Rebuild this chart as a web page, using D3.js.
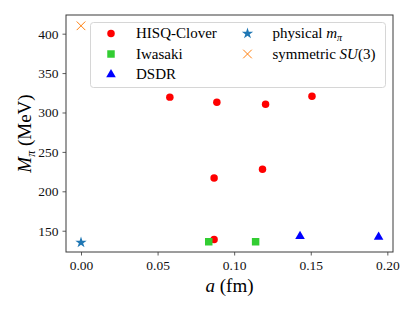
<!DOCTYPE html>
<html>
<head>
<meta charset="utf-8">
<script src="https://cdn.jsdelivr.net/npm/d3@7"></script>
<style>
body{margin:0;background:#fff;}
</style>
</head>
<body>
<div class="canvas"></div>
<script>
var W = 415, H = 311;
var margin = {t:15,r:22,b:59,l:66};
var width = W - margin.l - margin.r,
    height = H - margin.t - margin.b;
var serif = '"Liberation Serif","DejaVu Serif",serif';

// data
var hisqA = [0.058,0.0887,0.1205,0.1508,0.0869,0.1185,0.0869];
var hisqM = [319.5,313,310.5,320.5,217,228,139];
var iwasakiA = [0.0834,0.114];
var iwasakiM = [136,136];
var dsdrA = [0.143,0.1943];
var dsdrM = [143,142];
var physA = [0.0];
var physM = [135];
var symA = [0.0];
var symM = [410];

var xTicks = [0,0.05,0.10,0.15,0.20];
var yTicks = [150,200,250,300,350,400];

var svg = d3.select('.canvas').append('svg')
    .attr('width',W).attr('height',H);
var plot = svg.append('g')
    .attr('transform','translate('+margin.l+','+margin.t+')');

var x = d3.scaleLinear().domain([-0.0098,0.2037]).range([0,width]);
var y = d3.scaleLinear().domain([123,423.7]).range([height,0]);

var xAxis = plot.append('g')
    .attr('transform','translate(0,'+height+')')
    .call(d3.axisBottom(x).tickValues(xTicks).tickFormat(d3.format('.2f')).tickSize(3.5).tickPadding(5));
var yAxis = plot.append('g')
    .call(d3.axisLeft(y).tickValues(yTicks).tickSize(3.5).tickPadding(4));
[xAxis,yAxis].forEach(function(a){
    a.attr('font-family',serif).attr('font-size',13.5);
    a.select('.domain').remove();
    a.selectAll('.tick line').attr('stroke','#333').attr('stroke-width',0.8);
    a.selectAll('.tick text').attr('fill','#111');
});

// frame
plot.append('rect')
    .attr('width',width).attr('height',height)
    .attr('fill','none').attr('stroke','#3a3a3a').attr('stroke-width',1);

function pts(A,M){ return A.map(function(d,i){ return [d,M[i]]; }); }

function drawSeries(data,type,size,fill,stroke){
    plot.selectAll(null).data(data).enter().append('path')
        .attr('transform',function(d){ return 'translate('+x(d[0])+','+y(d[1])+')'; })
        .attr('d',d3.symbol().type(type).size(size))
        .attr('fill',fill)
        .attr('stroke',stroke || 'none')
        .attr('stroke-width',stroke ? 1 : 0);
}

drawSeries(pts(hisqA,hisqM),d3.symbolCircle,44,'#ff0000');
drawSeries(pts(iwasakiA,iwasakiM),d3.symbolSquare,56,'#32cd32');
drawSeries(pts(dsdrA,dsdrM),d3.symbolTriangle,40,'#0000ff');
drawSeries(pts(physA,physM),d3.symbolStar,40,'#1f77b4');
drawSeries(pts(symA,symM),d3.symbolX,50,'none','#ff7f0e');

// legend
var legend = svg.append('g').attr('font-family',serif);
legend.append('rect')
    .attr('x',90.5).attr('y',22.5).attr('width',295).attr('height',65)
    .attr('rx',3).attr('fill','#fff').attr('fill-opacity',0.8)
    .attr('stroke','#d6d6d6').attr('stroke-width',1);

var legendItems = [
    {type:d3.symbolCircle,size:44,fill:'#ff0000',label:'HISQ-Clover',mx:111,my:33.5},
    {type:d3.symbolSquare,size:56,fill:'#32cd32',label:'Iwasaki',mx:111,my:54},
    {type:d3.symbolTriangle,size:40,fill:'#0000ff',label:'DSDR',mx:111,my:74.5},
    {type:d3.symbolStar,size:40,fill:'#1f77b4',label:'physical',sub:'m',mx:247.5,my:33.5},
    {type:d3.symbolX,size:50,fill:'none',stroke:'#ff7f0e',label:'symmetric',su3:true,mx:247.5,my:54}
];
legendItems.forEach(function(it){
    legend.append('path')
        .attr('transform','translate('+it.mx+','+it.my+')')
        .attr('d',d3.symbol().type(it.type).size(it.size))
        .attr('fill',it.fill)
        .attr('stroke',it.stroke || 'none');
    var t = legend.append('text')
        .attr('x',it.mx+25).attr('y',it.my+4.5)
        .attr('font-size',15);
    t.append('tspan').text(it.label);
    if(it.sub){
        t.append('tspan').text(' m').attr('font-style','italic');
        t.append('tspan').text('π').attr('font-style','italic').attr('font-size',10).attr('dy',3);
    }
    if(it.su3){
        t.append('tspan').text(' SU').attr('font-style','italic');
        t.append('tspan').text('(3)');
    }
});

// axis labels
var xl = svg.append('text')
    .attr('x',margin.l+width/2).attr('y',292)
    .attr('text-anchor','middle')
    .attr('font-family',serif).attr('font-size',19);
xl.append('tspan').text('a').attr('font-style','italic');
xl.append('tspan').text(' (fm)');

var yl = svg.append('text')
    .attr('transform','translate(31,'+(margin.t+height/2)+') rotate(-90)')
    .attr('text-anchor','middle')
    .attr('font-family',serif).attr('font-size',19);
yl.append('tspan').text('M').attr('font-style','italic');
yl.append('tspan').text('π').attr('font-style','italic').attr('font-size',12).attr('dy',4);
yl.append('tspan').text(' (MeV)').attr('dy',-4);
</script>
</body>
</html>
